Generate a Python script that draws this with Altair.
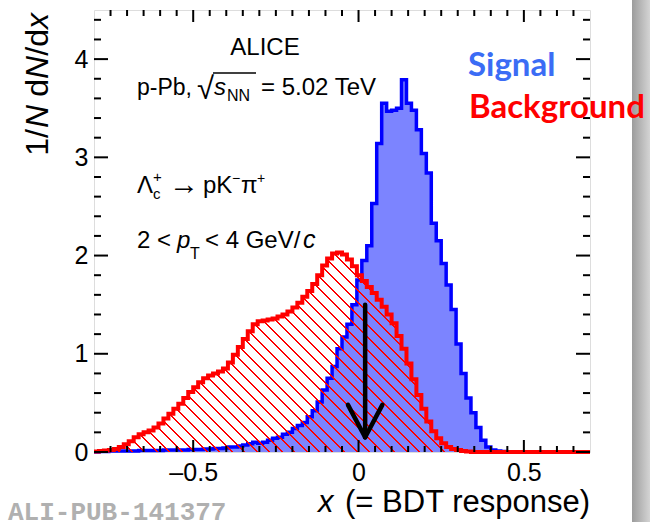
import altair as alt
import pandas as pd

# ---------------- data ----------------
x_lo, x_hi, bin_w = -0.8, 0.7, 0.015
y_lo, y_hi = 0.0, 4.5

signal = [0.0, 0.005, 0.005, 0.01, 0.01, 0.01, 0.01, 0.01, 0.01, 0.015,
          0.015, 0.015, 0.015, 0.015, 0.02, 0.02, 0.02, 0.02, 0.02, 0.025,
          0.025, 0.025, 0.03, 0.03, 0.035, 0.035, 0.04, 0.05, 0.05, 0.06,
          0.07, 0.085, 0.10, 0.09, 0.10, 0.12, 0.14, 0.15, 0.18, 0.20,
          0.24, 0.27, 0.30, 0.36, 0.42, 0.51, 0.63, 0.75, 0.87, 1.05,
          1.17, 1.30, 1.50, 1.75, 1.95, 2.10, 2.53, 3.14, 3.55, 3.47,
          3.48, 3.50, 3.79, 3.55, 3.48, 3.28, 3.04, 2.84, 2.33, 2.15,
          1.92, 1.70, 1.45, 1.10, 0.80, 0.55, 0.40, 0.25, 0.12, 0.05,
          0.02, 0.01, 0.005, 0.0, 0.0, 0.0, 0.0, 0.0, 0.0, 0.0,
          0.0, 0.0, 0.0, 0.0, 0.0, 0.0, 0.0, 0.0, 0.0, 0.0]

background = [0.005, 0.01, 0.015, 0.02, 0.03, 0.05, 0.08, 0.11, 0.15, 0.18,
              0.20, 0.22, 0.25, 0.29, 0.34, 0.39, 0.44, 0.49, 0.55, 0.61,
              0.66, 0.71, 0.75, 0.78, 0.80, 0.82, 0.85, 0.91, 0.99, 1.07,
              1.15, 1.23, 1.30, 1.33, 1.34, 1.35, 1.36, 1.38, 1.40, 1.43,
              1.47, 1.52, 1.58, 1.64, 1.71, 1.80, 1.90, 1.97, 2.02, 2.03,
              2.01, 1.96, 1.89, 1.80, 1.74, 1.68, 1.62, 1.55, 1.48, 1.40,
              1.31, 1.18, 1.05, 0.90, 0.74, 0.58, 0.44, 0.31, 0.21, 0.14,
              0.09, 0.05, 0.03, 0.02, 0.01, 0.005, 0.0, 0.0, 0.0, 0.0,
              0.0, 0.0, 0.0, 0.0, 0.0, 0.0, 0.0, 0.0, 0.0, 0.0,
              0.0, 0.0, 0.0, 0.0, 0.0, 0.0, 0.0, 0.0, 0.0, 0.0]

x_major = [-0.5, 0.0, 0.5]
x_minor = [-0.75, -0.7, -0.65, -0.6, -0.55, -0.45, -0.4, -0.35, -0.3, -0.25,
           -0.2, -0.15, -0.1, -0.05, 0.05, 0.1, 0.15, 0.2, 0.25, 0.3,
           0.35, 0.4, 0.45, 0.55, 0.6, 0.65]
y_major = [0, 1, 2, 3, 4]
y_minor = [0.2, 0.4, 0.6, 0.8, 1.2, 1.4, 1.6, 1.8, 2.2, 2.4, 2.6, 2.8,
           3.2, 3.4, 3.6, 3.8, 4.2, 4.4]

# cut arrow (data coordinates)
arrow_x = 0.02
arrow_top = 1.5
arrow_tip = 0.15
arrow_head_dx = 0.052
arrow_head_y = 0.48

# ---------------- layout ----------------
L, T, W, H = 94, 10, 496, 442
FONT = "Liberation Sans"

edges = [round(x_lo + bin_w * i, 4) for i in range(len(signal) + 1)]


def hist_df(vals):
    return pd.DataFrame({"x": edges, "y": list(vals) + [vals[-1]]})


xs = alt.Scale(domain=[x_lo, x_hi], nice=False, zero=False)
ys = alt.Scale(domain=[y_lo, y_hi], nice=False, zero=False)

x_axis = alt.Axis(
    values=x_major, ticks=False, tickSize=0, domain=False, grid=False, title=None,
    labelFont=FONT, labelFontSize=25, labelColor="black", labelPadding=8,
    labelExpr="datum.value == 0 ? '0' : (datum.value < 0 ? '\u2013' + format(-datum.value, '.1f') : format(datum.value, '.1f'))")
y_axis = alt.Axis(
    values=y_major, ticks=False, tickSize=0, domain=False, grid=False, title=None,
    labelFont=FONT, labelFontSize=25, labelColor="black", labelPadding=6, format="d")


def X(field):
    return alt.X(field, scale=xs, axis=x_axis)


def Y(field):
    return alt.Y(field, scale=ys, axis=y_axis)


# hatch for background: diagonal red lines via a striped linear gradient
bbox_h = max(background) / (y_hi - y_lo) * H
r = bbox_h / W
s = (1 + r) / (1 + r * r)
period_px, line_px = 12.5, 1.8
P = period_px / (W * (1 + r))
w = line_px / (W * (1 + r))
stops = []
t = 0.0
red = "rgb(255,0,0)"
clear = "rgba(255,0,0,0)"
while t < 1.0:
    a = min(t, 1.0)
    b = min(t + w, 1.0)
    stops += [{"offset": a, "color": clear}, {"offset": a, "color": red},
              {"offset": b, "color": red}, {"offset": b, "color": clear}]
    t += P
hatch = {"gradient": "linear", "x1": 0, "y1": 1, "x2": s, "y2": 1 - s * r,
         "stops": stops}

sig_df = hist_df(signal)
bkg_df = hist_df(background)

sig_area = alt.Chart(sig_df).mark_area(interpolate="step-after", fill="#7c84ff").encode(
    x=X("x:Q"), y=Y("y:Q"))
sig_line = alt.Chart(sig_df).mark_line(interpolate="step-after", color="#0000ff", strokeWidth=3.5).encode(
    x=X("x:Q"), y=Y("y:Q"))
bkg_area = alt.Chart(bkg_df).mark_area(interpolate="step-after", fill=hatch).encode(
    x=X("x:Q"), y=Y("y:Q"))
bkg_line = alt.Chart(bkg_df).mark_line(interpolate="step-after", color="#ff0000", strokeWidth=4).encode(
    x=X("x:Q"), y=Y("y:Q"))

arrow_df = pd.DataFrame({
    "x": [arrow_x, arrow_x - arrow_head_dx, arrow_x + arrow_head_dx],
    "y": [arrow_top, arrow_head_y, arrow_head_y],
    "x2": [arrow_x, arrow_x, arrow_x],
    "y2": [arrow_tip, arrow_tip, arrow_tip],
})
arrow = alt.Chart(arrow_df).mark_rule(color="black", strokeWidth=4.5, strokeCap="round").encode(
    x=X("x:Q"), x2="x2:Q", y=Y("y:Q"), y2="y2:Q")


def xticks(vals, length):
    d = pd.DataFrame({"x": vals})
    bot = alt.Chart(d).mark_rule(color="black", strokeWidth=2).encode(
        x=X("x:Q"), y=alt.value(H), y2=alt.value(H - length))
    top = alt.Chart(d).mark_rule(color="black", strokeWidth=2).encode(
        x=X("x:Q"), y=alt.value(0), y2=alt.value(length))
    return [bot, top]


def yticks(vals, length):
    d = pd.DataFrame({"y": vals})
    lft = alt.Chart(d).mark_rule(color="black", strokeWidth=2).encode(
        y=Y("y:Q"), x=alt.value(0), x2=alt.value(length))
    rgt = alt.Chart(d).mark_rule(color="black", strokeWidth=2).encode(
        y=Y("y:Q"), x=alt.value(W), x2=alt.value(W - length))
    return [lft, rgt]


ticks = xticks(x_major, 12) + xticks(x_minor, 6) + yticks(y_major, 14) + yticks(y_minor, 7)


def label(text, px, py, size, style="normal", weight="normal", color="black",
          align="left", font=FONT, angle=0):
    kw = dict(text=text, fontSize=size, fontStyle=style, fontWeight=weight,
              color=color, align=align, baseline="alphabetic", font=font)
    if angle:
        kw["angle"] = angle
    return alt.Chart(alt.Data(values=[{}])).mark_text(**kw).encode(
        x=alt.value(px - L), y=alt.value(py - T))


texts = [
    label("ALICE", 265, 55, 24, align="center"),
    label("p-Pb,", 137, 95, 23),
    label("\u221a", 197, 99, 31),
    label("s", 214, 95, 24, style="italic"),
    label("NN", 227, 101, 16),
    label("= 5.02 TeV", 261, 95, 24),
    label("\u039b", 137, 193, 24),
    label("+", 153, 182, 15),
    label("c", 153, 199, 15),
    label("\u2192", 169, 194, 30),
    label("pK", 203, 193, 24),
    label("\u2212", 232, 183, 14),
    label("\u03c0", 241, 193, 24),
    label("+", 257, 183, 14),
    label("2 <", 137, 248, 24),
    label("p", 177, 248, 24, style="italic"),
    label("T", 190, 259, 16),
    label("< 4 GeV/", 205, 248, 24),
    label("c", 303, 248, 25, style="italic"),
    label("x", 318, 512, 31, style="italic"),
    label("(= BDT response)", 590, 512, 31, align="right"),
    label("x", 48, 13, 32, style="italic", align="right", angle=270),
    label("/d", 48, 29, 32, align="right", angle=270),
    label("N", 48, 56, 32, style="italic", align="right", angle=270),
    label(" d", 48, 79, 32, align="right", angle=270),
    label("N", 48, 105, 32, style="italic", align="right", angle=270),
    label("1/", 48, 129, 32, align="right", angle=270),
    label("ALI-PUB-141377", 8, 520, 26, weight="bold", color="#b0b0b0",
          font="Liberation Mono"),
]

sqrt_bar = alt.Chart(alt.Data(values=[{}])).mark_rule(color="black", strokeWidth=1.5).encode(
    x=alt.value(213 - L), x2=alt.value(256 - L), y=alt.value(73 - T))

side_bar = alt.Chart(alt.Data(values=[{}])).mark_rect(
    fill={"gradient": "linear", "x1": 0, "y1": 0, "x2": 1, "y2": 0,
          "stops": [{"offset": 0, "color": "#9c9c9c"}, {"offset": 1, "color": "#d4d4d4"}]}
).encode(x=alt.value(632 - L), x2=alt.value(650 - L), y=alt.value(-T), y2=alt.value(522 - T))

legend_texts = [
    label("Signal", 468, 76, 33, weight="bold", color="#3b6cf5", font="Lato"),
    label("Background", 469, 118, 33, weight="bold", color="#ff0000", font="Lato"),
]

chart = alt.layer(
    side_bar, sig_area, sig_line, bkg_area, bkg_line, arrow, *ticks, sqrt_bar, *texts,
    *legend_texts
).properties(
    width=W, height=H,
    padding={"left": L, "top": T, "right": 650 - L - W, "bottom": 522 - T - H},
    autosize=alt.AutoSizeParams(type="none"),
).configure_view(stroke="black", strokeWidth=2.5).configure(background="white")

chart.save("out.html", embed_options={"renderer": "svg", "actions": False})
